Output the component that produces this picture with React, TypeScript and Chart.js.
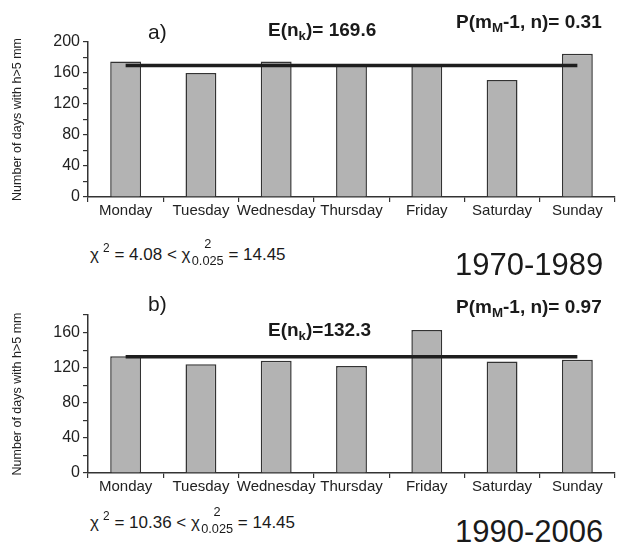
import React, { useEffect, useRef } from "react";
import { Chart, registerables } from "chart.js";

Chart.register(...registerables);

const DAYS = ["Monday", "Tuesday", "Wednesday", "Thursday", "Friday", "Saturday", "Sunday"];
const COUNTS_1970_1989 = [175, 160, 175, 170, 171, 151, 185];
const MEAN_1970_1989 = 169.6;
const COUNTS_1990_2006 = [133, 124, 128, 122, 163, 127, 129];
const MEAN_1990_2006 = 132.3;
const Y_MAX_A = 200;
const Y_MAX_B = 180;
const Y_TITLE = "Number of days with h>5 mm";

const FONT = '"Liberation Sans", Arial, Helvetica, sans-serif';

type PanelProps = {
  top: number;
  height: number;
  padTop: number;
  xAxisH: number;
  values: number[];
  mean: number;
  yMax: number;
};

function Panel({ top, height, padTop, xAxisH, values, mean, yMax }: PanelProps) {
  const ref = useRef<HTMLCanvasElement | null>(null);
  useEffect(() => {
    if (!ref.current) return;
    const chart = new Chart(ref.current, {
      type: "bar",
      data: {
        labels: DAYS,
        datasets: [
          {
            type: "line",
            data: DAYS.map(() => mean),
            borderColor: "#1e1e1e",
            borderWidth: 3.5,
            pointRadius: 0,
            order: 0,
          } as any,
          {
            type: "bar",
            data: values,
            backgroundColor: "#b3b3b3",
            borderColor: "#333",
            borderWidth: 1.5,
            barPercentage: 0.41,
            categoryPercentage: 1,
            order: 1,
          } as any,
        ],
      },
      options: {
        animation: false,
        responsive: false,
        maintainAspectRatio: false,
        layout: { padding: { top: padTop, right: 6, left: 0, bottom: 0 } },
        plugins: { legend: { display: false }, tooltip: { enabled: false } },
        scales: {
          x: {
            grid: { offset: true, drawOnChartArea: false, tickLength: 5, color: "#333", lineWidth: 1.2 },
            border: { color: "#333", width: 1.5 },
            ticks: { color: "#222", font: { family: FONT, size: 15 }, padding: 0, maxRotation: 0, autoSkip: false },
            afterFit: (s: any) => {
              s.height = xAxisH;
            },
          },
          y: {
            min: 0,
            max: yMax,
            grid: { drawOnChartArea: false, tickLength: 5, color: "#333", lineWidth: 1.2 },
            border: { color: "#333", width: 1.5 },
            ticks: {
              stepSize: 20,
              autoSkip: false,
              color: "#222",
              font: { family: FONT, size: 16 },
              padding: 3,
              callback: (v: any) => (Number(v) % 40 === 0 ? String(v) : ""),
            },
            title: {
              display: true,
              text: Y_TITLE,
              color: "#222",
              font: { family: FONT, size: 12.5 },
              padding: { top: 10, bottom: 0 },
            },
            afterFit: (s: any) => {
              s.width = 88;
            },
          },
        },
      },
    } as any);
    return () => chart.destroy();
  }, []);
  return (
    <canvas
      ref={ref}
      width={621}
      height={height}
      style={{ position: "absolute", left: 0, top, width: 621, height }}
    />
  );
}

function Txt({
  left,
  baseline,
  size,
  bold,
  children,
}: {
  left: number;
  baseline: number;
  size: number;
  bold?: boolean;
  children: React.ReactNode;
}) {
  return (
    <div
      style={{
        position: "absolute",
        left,
        top: baseline - 0.847 * size,
        fontFamily: FONT,
        fontSize: size,
        lineHeight: 1,
        fontWeight: bold ? "bold" : "normal",
        color: "#1a1a1a",
        whiteSpace: "nowrap",
      }}
    >
      {children}
    </div>
  );
}

const Sub = ({ children }: { children: React.ReactNode }) => (
  <span style={{ fontSize: "0.7em", position: "relative", top: "0.3em" }}>{children}</span>
);

function Chi({ left, baseline, value }: { left: number; baseline: number; value: string }) {
  return (
    <Txt left={left} baseline={baseline} size={17}>
      <span>χ</span>
      <span style={{ fontSize: "0.7em", position: "relative", top: "-0.6em", marginLeft: "0.35em" }}>2</span>
      <span>{" = " + value + " < χ"}</span>
      <span
        style={{
          position: "relative",
          display: "inline-block",
          fontSize: "0.75em",
          top: "0.45em",
          marginLeft: "0.1em",
        }}
      >
        0.025
        <span style={{ position: "absolute", left: 0, right: 0, textAlign: "center", top: "-1.35em" }}>2</span>
      </span>
      <span>{" = 14.45"}</span>
    </Txt>
  );
}

export default function App() {
  return (
    <div style={{ position: "absolute", left: 0, top: 0, width: 621, height: 547, background: "#fff", overflow: "hidden" }}>
      <Panel top={0} height={240} padTop={42} xAxisH={43} values={COUNTS_1970_1989} mean={MEAN_1970_1989} yMax={Y_MAX_A} />
      <Panel top={270} height={240} padTop={45} xAxisH={37} values={COUNTS_1990_2006} mean={MEAN_1990_2006} yMax={Y_MAX_B} />

      <Txt left={148} baseline={39} size={21}>a)</Txt>
      <Txt left={268} baseline={36.5} size={19} bold>
        E(n<Sub>k</Sub>)= 169.6
      </Txt>
      <Txt left={456} baseline={28} size={19} bold>
        P(m<Sub>M</Sub>-1, n)= 0.31
      </Txt>
      <Chi left={90} baseline={260} value="4.08" />
      <Txt left={455} baseline={275} size={31}>1970-1989</Txt>

      <Txt left={148} baseline={311} size={21}>b)</Txt>
      <Txt left={456} baseline={313} size={19} bold>
        P(m<Sub>M</Sub>-1, n)= 0.97
      </Txt>
      <Txt left={268} baseline={336} size={19} bold>
        E(n<Sub>k</Sub>)=132.3
      </Txt>
      <Chi left={90} baseline={528} value="10.36" />
      <Txt left={455} baseline={542} size={31}>1990-2006</Txt>
    </div>
  );
}
